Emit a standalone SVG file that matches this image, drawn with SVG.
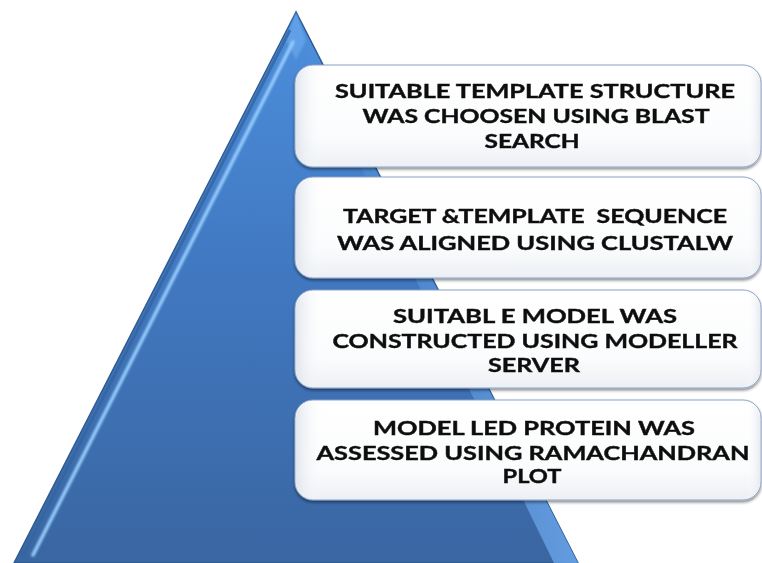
<svg xmlns="http://www.w3.org/2000/svg" width="762" height="563" viewBox="0 0 762 563">
  <defs>
    <linearGradient id="pyrFill" x1="0" y1="0" x2="0" y2="1">
      <stop offset="0" stop-color="#4d8fdc"/>
      <stop offset="0.45" stop-color="#4179c2"/>
      <stop offset="1" stop-color="#3a66a2"/>
    </linearGradient>
    <linearGradient id="rightBand" x1="1" y1="0" x2="0" y2="0">
      <stop offset="0" stop-color="#6aa6ea" stop-opacity="0.85"/>
      <stop offset="1" stop-color="#6aa6ea" stop-opacity="0"/>
    </linearGradient>
    <linearGradient id="boxFill" x1="0" y1="0" x2="0" y2="1">
      <stop offset="0" stop-color="#ffffff"/>
      <stop offset="0.7" stop-color="#fbfcfd"/>
      <stop offset="1" stop-color="#eceff4"/>
    </linearGradient>
    <linearGradient id="boxSide" x1="0" y1="0" x2="1" y2="0">
      <stop offset="0" stop-color="#dfe4ec" stop-opacity="0.9"/>
      <stop offset="0.06" stop-color="#ffffff" stop-opacity="0"/>
      <stop offset="0.97" stop-color="#ffffff" stop-opacity="0"/>
      <stop offset="1" stop-color="#e3e7ee" stop-opacity="0.8"/>
    </linearGradient>
    <filter id="soft" x="-10%" y="-10%" width="120%" height="120%">
      <feGaussianBlur stdDeviation="1.2"/>
    </filter>
    <filter id="shadow" x="-5%" y="-10%" width="110%" height="130%">
      <feGaussianBlur in="SourceAlpha" stdDeviation="1.5"/>
      <feOffset dy="2" result="b"/>
      <feComponentTransfer><feFuncA type="linear" slope="0.45"/></feComponentTransfer>
      <feMerge><feMergeNode/><feMergeNode in="SourceGraphic"/></feMerge>
    </filter>
  </defs>
  <style>
    .box { fill: url(#boxFill); stroke: #8ba3c6; stroke-width: 1; }
    .side { fill: url(#boxSide); stroke: none; }
    .lbl { font-family: Lato, "Open Sans", "Liberation Sans", sans-serif; font-weight: 700; font-size: 19.5px; fill: #111111; stroke: #111111; stroke-width: 0.4; white-space: pre; }
  </style>

  <!-- pyramid body with bevelled edges -->
  <g id="pyramid">
    <polygon points="296,12 14,563 578,563" fill="url(#pyrFill)" stroke="#2f5b92" stroke-width="1.5"/>
    <polygon points="296,14 578,563 554,563 296,34" fill="url(#rightBand)"/>
    <polygon points="296,12 306,40 296,60 286,40" fill="#6aa8ee" opacity="0.7" filter="url(#soft)"/>
    <line x1="293" y1="42" x2="33" y2="555" stroke="#96ccfb" stroke-width="3.5" stroke-linecap="round" filter="url(#soft)"/>
    <line x1="290" y1="30" x2="22" y2="557" stroke="#3565a0" stroke-width="3" opacity="0.8"/>
  </g>

  <!-- connectors: none in this diagram -->
  <g id="connectors"/>

  <g id="step1" filter="url(#shadow)">
    <rect class="box" x="295" y="65" width="466" height="102" rx="18"/>
    <rect class="side" x="296" y="66" width="464" height="100" rx="17"/>
    <text class="lbl" x="535" y="98" text-anchor="middle" textLength="400" lengthAdjust="spacingAndGlyphs">SUITABLE TEMPLATE STRUCTURE</text>
    <text class="lbl" x="536" y="123" text-anchor="middle" textLength="347" lengthAdjust="spacingAndGlyphs">WAS CHOOSEN USING BLAST</text>
    <text class="lbl" x="532" y="148" text-anchor="middle" textLength="95" lengthAdjust="spacingAndGlyphs">SEARCH</text>
  </g>

  <g id="step2" filter="url(#shadow)">
    <rect class="box" x="295" y="177" width="466" height="101" rx="18"/>
    <rect class="side" x="296" y="178" width="464" height="99" rx="17"/>
    <text class="lbl" x="535" y="223" text-anchor="middle" textLength="384" lengthAdjust="spacingAndGlyphs">TARGET &amp;TEMPLATE  SEQUENCE</text>
    <text class="lbl" x="535" y="250" text-anchor="middle" textLength="396" lengthAdjust="spacingAndGlyphs">WAS ALIGNED USING CLUSTALW</text>
  </g>

  <g id="step3" filter="url(#shadow)">
    <rect class="box" x="295" y="290" width="466" height="98" rx="18"/>
    <rect class="side" x="296" y="291" width="464" height="96" rx="17"/>
    <text class="lbl" x="535" y="323" text-anchor="middle" textLength="284" lengthAdjust="spacingAndGlyphs">SUITABL E MODEL WAS</text>
    <text class="lbl" x="535" y="348" text-anchor="middle" textLength="405" lengthAdjust="spacingAndGlyphs">CONSTRUCTED USING MODELLER</text>
    <text class="lbl" x="534" y="372" text-anchor="middle" textLength="92" lengthAdjust="spacingAndGlyphs">SERVER</text>
  </g>

  <g id="step4" filter="url(#shadow)">
    <rect class="box" x="295" y="400" width="466" height="100" rx="18"/>
    <rect class="side" x="296" y="401" width="464" height="98" rx="17"/>
    <text class="lbl" x="534" y="435" text-anchor="middle" textLength="322" lengthAdjust="spacingAndGlyphs">MODEL LED PROTEIN WAS</text>
    <text class="lbl" x="533" y="460" text-anchor="middle" textLength="433" lengthAdjust="spacingAndGlyphs">ASSESSED USING RAMACHANDRAN</text>
    <text class="lbl" x="532" y="483" text-anchor="middle" textLength="59" lengthAdjust="spacingAndGlyphs">PLOT</text>
  </g>
</svg>
